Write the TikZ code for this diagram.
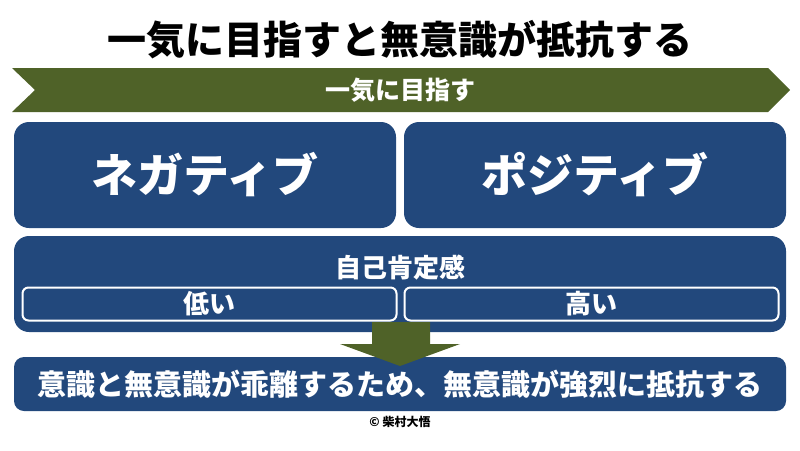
\documentclass[tikz,border=0pt]{standalone}
\usepackage{fontspec}
\setmainfont{Noto Sans CJK JP}
\definecolor{boxblue}{HTML}{22487C}
\definecolor{bandgreen}{HTML}{4F6228}
\begin{document}
\begin{tikzpicture}[x=1pt,y=-1pt,every node/.style={text=white,font=\bfseries}]
        \tikzset{bluebox/.style = {fill=boxblue,rounded corners=15pt,inner sep=0pt},
                 levelbox/.style = {draw=white,line width=2pt,rounded corners=6pt,inner sep=0pt,
                   minimum height=33pt,font=\bfseries\fontsize{26}{28}\selectfont}}
        \useasboundingbox (0,0) rectangle (800,450);
        % title
        \node[text=black,font=\bfseries\fontsize{39}{41}\selectfont] (title) at (400,40) {一気に目指すと無意識が抵抗する};
        % band
        \fill[bandgreen] (12,68) -- (768,68) -- (790,90) -- (768,112) -- (12,112) -- (35,90) -- cycle;
        \node[font=\bfseries\fontsize{25}{27}\selectfont] (band) at (400,90) {一気に目指す};
        % two boxes
        \node[bluebox,minimum width=382pt,minimum height=106pt,font=\bfseries\fontsize{46}{48}\selectfont] (neg) at (205,175) {ネガティブ};
        \node[bluebox,minimum width=382pt,minimum height=106pt,font=\bfseries\fontsize{46}{48}\selectfont] (pos) at (595,175) {ポジティブ};
        % self esteem
        \node[bluebox,minimum width=772pt,minimum height=96pt] (esteem) at (400,284) {};
        \node[font=\bfseries\fontsize{26}{28}\selectfont] (esteemlabel) at (400,268) {自己肯定感};
        \node[levelbox,minimum width=374pt] (low) at (209.5,304) {低い};
        \node[levelbox,minimum width=374pt] (high) at (591.5,304) {高い};
        % result
        \node[bluebox,rounded corners=10pt,minimum width=772pt,minimum height=54pt,font=\bfseries\fontsize{29}{31}\selectfont] (result) at (400,384) {意識と無意識が乖離するため、無意識が強烈に抵抗する};
        % arrow
        \fill[bandgreen] (372,322) -- (430,322) -- (430,344) -- (460,344) -- (400,366) -- (340,344) -- (372,344) -- cycle;
        \node[text=black,font=\bfseries\fontsize{12}{14}\selectfont] (copy) at (400,422) {© 柴村大悟};
\end{tikzpicture}
\end{document}
